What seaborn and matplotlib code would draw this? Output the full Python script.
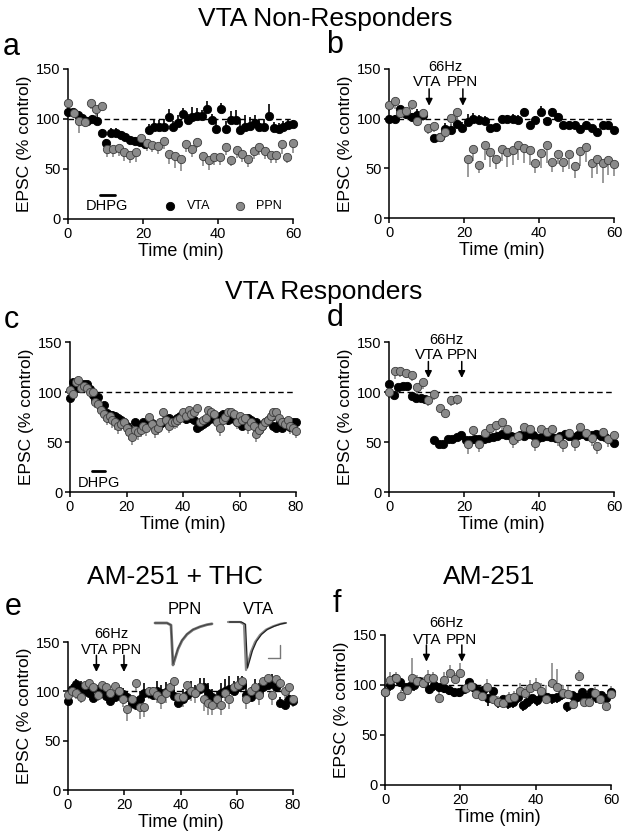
import numpy as np
import pandas as pd
import matplotlib
matplotlib.use("Agg")
import matplotlib.pyplot as plt
import seaborn as sns

sns.set_style("ticks")
plt.rcParams['font.family'] = ['Liberation Sans', 'DejaVu Sans']
plt.rcParams.update({"text.color": "black", "axes.labelcolor": "black",
                     "axes.edgecolor": "black", "xtick.color": "black",
                     "ytick.color": "black"})

nan = np.nan
# ---------------- data (EPSC, % control) ----------------
# Panel a : VTA Non-Responders, DHPG
vta_a = [107,107,104,101,98,100,98,86,76,86,86,84,82,79,78,77,75,89,92,92,92,102,92,96,105,99,
         102,103,103,110,99,90,110,90,99,99,89,92,93,96,92,92,103,91,90,92,94,95]
vta_a_err = [3,3,4,3,4,4,12,4,4,5,5,4,4,4,4,4,4,6,8,7,8,8,6,8,6,6,10,8,6,8,6,7,6,8,9,10,8,12,
             9,8,7,8,12,6,6,6,6,4]
ppn_a = [116,106,98,97,116,110,113,70,70,71,67,64,67,81,76,74,73,78,65,63,60,75,70,77,63,59,62,
         62,72,59,69,65,60,68,72,68,64,64,75,62,76]
ppn_a_err = [4,5,12,5,6,8,5,8,8,8,9,8,10,6,8,7,8,8,10,12,12,8,8,6,10,10,8,8,8,6,8,8,8,8,8,8,8,
             8,10,6,10]
# Panel b : VTA Non-Responders, 66Hz
vta_b = [100,100,110,105,102,104,104,nan,81,82,90,89,95,91,97,100,99,98,91,92,100,100,100,99,
         107,94,99,107,98,107,102,94,94,94,90,94,91,87,94,94,89]
vta_b_err = [2,4,3,4,4,6,4,0,3,4,6,6,12,6,8,6,5,5,3,3,4,4,5,5,4,4,4,6,4,4,4,4,4,4,4,4,3,3,4,4,3]
ppn_b = [114,118,106,108,115,98,106,91,93,82,87,101,107,nan,59,69,53,73,66,59,69,66,68,73,70,68,
         55,65,73,56,64,56,64,52,67,71,55,59,55,58,54]
ppn_b_err = [6,8,5,8,6,5,8,6,6,5,6,8,10,0,18,12,8,15,15,10,12,15,15,15,15,15,10,15,18,10,10,10,
             15,12,15,15,15,15,20,15,12]
# Panel c : VTA Responders, DHPG
vta_c = [94,110,108,104,106,108,108,103,97,92,95,85,87,79,77,77,76,74,72,70,66,63,60,70,67,64,70,
         68,70,69,67,65,68,70,72,74,70,72,74,76,78,73,76,74,72,64,66,68,70,72,76,73,72,76,78,74,
         72,76,73,70,72,66,70,74,72,68,70,62,66,70,72,75,66,64,68,64,70,68,65,70,70]
vta_c_err = [3,3,3,3,3,3,3,4,3,4,4,4,4,4,4,5,4,4,4,4,4,5,4,5,4,4,4,5,5,4,4,4,4,5,4,4,4,4,4,4,5,
             4,4,5,4,4,4,4,4,4,4,5,4,4,4,4,5,4,4,4,5,4,4,4,4,4,4,5,4,4,4,4,4,4,5,4,4,4,4,4,4]
ppn_c = [102,98,110,112,104,106,104,100,100,90,88,82,78,74,76,72,70,66,68,70,64,60,55,62,60,62,
         66,64,75,68,62,64,70,80,72,66,70,70,72,74,80,76,82,78,80,84,70,72,74,82,80,78,70,64,72,
         75,80,80,78,70,76,72,74,66,70,66,58,62,66,70,72,76,80,80,74,70,68,72,66,64,61]
ppn_c_err = [4,5,5,5,5,4,5,5,5,6,6,6,7,7,7,8,8,8,7,7,8,8,8,7,8,7,7,8,7,7,8,7,7,7,8,7,7,7,8,7,7,
             8,7,7,7,7,8,7,7,7,8,7,7,8,7,7,7,8,7,7,8,7,7,8,7,7,8,7,7,8,7,7,8,7,7,8,7,7,8,7,7]
# Panel d : VTA Responders, 66Hz
vta_d = [108,97,105,106,106,96,94,94,93,nan,52,48,48,53,53,55,57,52,52,53,53,53,54,55,56,58,57,
         56,55,57,56,58,57,54,55,56,55,54,56,58,56,55,57,58,56,57,58,56,55,53,49]
vta_d_err = [3,4,3,3,3,3,3,3,3,0,3,3,3,4,3,3,3,3,3,3,3,3,3,3,4,3,3,3,3,3,3,3,3,4,3,3,3,3,3,3,
             3,3,3,3,3,4,3,3,3,3,3]
ppn_d = [100,121,121,119,117,105,110,92,98,84,79,92,93,nan,48,62,48,59,64,67,70,63,52,56,65,63,
         49,63,60,63,54,48,59,49,65,59,54,46,60,53,57]
ppn_d_err = [6,8,6,5,6,10,7,6,6,5,5,6,6,0,10,10,8,8,8,7,8,8,8,7,8,8,8,8,8,8,8,8,8,8,8,8,8,8,8,
             8,8]
# Panel e : AM-251 + THC
vta_e = [90,102,107,104,100,98,93,100,98,95,90,94,100,97,94,88,86,92,98,98,96,100,98,99,100,95,
         88,92,96,100,98,102,104,98,94,92,98,100,102,100,104,106,96,94,100,98,104,106,108,104,
         88,86,92,90]
vta_e_err = [4,5,5,6,5,5,6,6,5,5,6,6,6,6,5,6,8,8,10,6,8,10,8,10,8,6,8,10,8,10,8,12,10,10,8,8,
             10,12,14,10,12,10,14,10,12,10,8,10,10,8,6,6,6,6]
ppn_e = [96,100,98,94,106,108,104,96,106,104,98,105,100,92,82,92,108,84,84,100,100,96,92,98,104,
         110,94,94,106,100,98,104,92,88,86,92,86,98,92,104,106,110,92,100,104,96,110,114,96,112,
         108,100,104,92]
ppn_e_err = [5,6,6,6,6,6,6,6,6,6,6,6,6,8,12,10,8,12,10,8,8,8,10,10,8,10,10,10,8,10,10,8,12,12,10,
             10,10,8,10,8,8,8,10,8,8,10,8,8,10,8,8,8,8,8]
# Panel f : AM-251
vta_f = [93,100,107,103,98,99,100,104,102,96,100,98,97,95,93,93,96,103,98,95,95,87,94,83,86,82,
         83,88,80,83,87,85,90,88,87,88,91,79,90,88,93,88,93,88,90,87,93]
vta_f_err = [4,6,5,5,5,5,6,5,5,5,6,5,5,5,5,5,5,5,5,5,5,8,6,6,6,6,6,6,6,6,6,6,6,6,6,6,6,6,6,6,6,
             6,6,6,6,10,6]
ppn_f = [93,105,107,89,95,107,104,102,107,107,87,105,112,106,112,97,99,91,89,98,86,83,82,87,88,
         94,92,97,99,94,86,102,98,92,91,81,109,83,83,92,86,79,91]
ppn_f_err = [6,8,6,6,6,20,6,6,8,6,6,8,8,6,10,6,6,6,6,8,6,6,6,6,6,8,6,8,8,8,14,20,18,8,8,6,6,6,6,
             6,6,6,8]

# inset EPSC trace shape (relative time px, normalised amplitude)
trace_dx = [0, 12, 16, 18, 20, 23, 27, 32, 38, 45, 52, 57]
trace_amp = [0, 0, -0.05, -1.0, -0.85, -0.62, -0.42, -0.27, -0.16, -0.09, -0.04, -0.02]

BLACK = "#000000"
GRAY = "#8a8a8a"
GRAY_EDGE = "#3c3c3c"

W, H = 624, 839
fig = plt.figure(figsize=(W / 100, H / 100), dpi=100)


def add_ax(l, t, r, b):
    return fig.add_axes([l / W, 1 - b / H, (r - l) / W, (b - t) / H])


def panel(ax, xmax, vta, vta_err, vdir, ppn, ppn_err, pdir, size=34):
    for vals, err, d, col, ecol, lab in [(vta, vta_err, vdir, BLACK, BLACK, "VTA"),
                                         (ppn, ppn_err, pdir, GRAY, GRAY_EDGE, "PPN")]:
        t = np.linspace(0, xmax, len(vals))
        v = np.array(vals, float)
        e = np.array(err, float)
        z = np.zeros_like(e)
        yerr = [z, e] if d > 0 else [e, z]
        ax.errorbar(t, v, yerr=yerr, fmt="none", ecolor=col if col == BLACK else GRAY,
                    elinewidth=1.2, capsize=0, clip_on=False, zorder=2)
        df = pd.DataFrame({"t": t, "v": v}).dropna()
        sns.scatterplot(data=df, x="t", y="v", ax=ax, color=col, edgecolor=ecol,
                        linewidth=0.6, s=size, clip_on=False, zorder=3, label=lab,
                        legend=False)
    ax.plot([0, xmax], [100, 100], color="k", lw=1.0, dashes=(4, 2.5), zorder=1)
    ax.set_xlim(0, xmax)
    ax.set_ylim(0, 150)
    ax.set_yticks([0, 50, 100, 150])
    ax.set_xticks(np.arange(0, xmax + 1, 20))
    sns.despine(ax=ax)
    for s in ("left", "bottom"):
        ax.spines[s].set_linewidth(1.1)
    ax.tick_params(axis="both", length=3.5, width=1.1, labelsize=10.5, pad=2)
    ax.set_xlabel("Time (min)", fontsize=13, labelpad=2)
    ax.set_ylabel("EPSC (% control)", fontsize=12.5, labelpad=3)


def stim(ax, xv, xp, y_top, y_tip, y_lab, y_hz, x_hz, xv_t=None, xp_t=None, fs=11):
    for x in (xv, xp):
        ax.annotate("", xy=(x, y_tip), xytext=(x, y_top),
                    arrowprops=dict(arrowstyle="-|>", color="k", lw=1.1, mutation_scale=10,
                                    shrinkA=0, shrinkB=0),
                    annotation_clip=False)
    ax.text(xv if xv_t is None else xv_t, y_lab, "VTA", ha="center", va="center", fontsize=fs,
            clip_on=False)
    ax.text(xp if xp_t is None else xp_t, y_lab, "PPN", ha="center", va="center", fontsize=fs,
            clip_on=False)
    ax.text(x_hz, y_hz, "66Hz", ha="center", va="center", fontsize=10.5, clip_on=False)


# ---- panel a
ax_a = add_ax(68, 69, 293, 219)
panel(ax_a, 60, vta_a, vta_a_err, 1, ppn_a, ppn_a_err, -1, size=36)
ax_a.plot([8.4, 12.4], [24, 24], color="k", lw=2)
ax_a.text(10.4, 13, "DHPG", ha="center", va="center", fontsize=10.5)
ax_a.legend(loc="center left", bbox_to_anchor=(0.427, 0.087), frameon=False, ncol=2,
            fontsize=9, handlelength=1.0, handletextpad=0.8, columnspacing=1.9,
            borderpad=0, borderaxespad=0)

# ---- panel b
ax_b = add_ax(389, 69, 614, 218)
panel(ax_b, 60, vta_b, vta_b_err, 1, ppn_b, ppn_b_err, -1, size=36)
stim(ax_b, 10.7, 19.7, 130, 113, 137, 152, 15.0, 10.2, 19.7)

# ---- panel c
ax_c = add_ax(70, 342, 296, 492)
panel(ax_c, 80, vta_c, vta_c_err, -1, ppn_c, ppn_c_err, -1, size=34)
ax_c.plot([7.7, 12.4], [21, 21], color="k", lw=2)
ax_c.text(10.3, 9, "DHPG", ha="center", va="center", fontsize=10.5)

# ---- panel d
ax_d = add_ax(389, 342, 614, 492)
panel(ax_d, 60, vta_d, vta_d_err, -1, ppn_d, ppn_d_err, -1, size=36)
stim(ax_d, 10.5, 19.4, 130.5, 114, 137, 152, 15.2, 10.7, 19.6)

# ---- panel e
ax_e = add_ax(68, 642, 293, 790)
panel(ax_e, 80, vta_e, vta_e_err, 1, ppn_e, ppn_e_err, -1, size=34)
stim(ax_e, 10.1, 19.9, 136.5, 119.6, 141.5, 158, 15.5, 9.6, 20.8, fs=10.5)

# ---- panel f
ax_f = add_ax(385, 635, 611, 785)
panel(ax_f, 60, vta_f, vta_f_err, -1, ppn_f, ppn_f_err, 1, size=36)
stim(ax_f, 11.0, 20.4, 140, 123.3, 145, 161.7, 16.4, 11.1, 20.4)

# ---- inset traces (panel e)
ax_in = add_ax(150, 612, 290, 675)
ax_in.set_xlim(0, 140)
ax_in.set_ylim(-63, 0)
ax_in.axis("off")
dx = np.array(trace_dx, float)
amp = np.array(trace_amp, float)
ax_in.plot(5 + dx, -11 + amp * 42, color="#777777", lw=2.0)
ax_in.plot(5 + dx, -11 + amp * 41, color="#444444", lw=0.8)
ax_in.plot(78 + dx, -10 + amp * 48, color="#888888", lw=1.6)
ax_in.plot(78 + dx + 1.5, -10 + amp * 46, color="#222222", lw=0.9)
ax_in.plot([130, 130], [-33, -46], color="#777777", lw=1.0)
ax_in.plot([118, 130], [-46, -46], color="#777777", lw=1.0)
fig.text(185 / W, 1 - 610 / H, "PPN", ha="center", va="center", fontsize=12)
fig.text(258 / W, 1 - 610 / H, "VTA", ha="center", va="center", fontsize=12)

# ---- titles and letters
fig.text(325 / W, 1 - 19 / H, "VTA Non-Responders", ha="center", va="center", fontsize=19)
fig.text(324 / W, 1 - 292 / H, "VTA Responders", ha="center", va="center", fontsize=19)
fig.text(175 / W, 1 - 577 / H, "AM-251 + THC", ha="center", va="center", fontsize=19)
fig.text(489 / W, 1 - 577 / H, "AM-251", ha="center", va="center", fontsize=19)
for lab, x, y in [("a", 11, 47), ("b", 335, 45), ("c", 11, 320), ("d", 335, 318),
                  ("e", 13, 607), ("f", 337, 604)]:
    fig.text(x / W, 1 - y / H, lab, ha="center", va="center", fontsize=22)

fig.savefig("out.png", dpi=100)
